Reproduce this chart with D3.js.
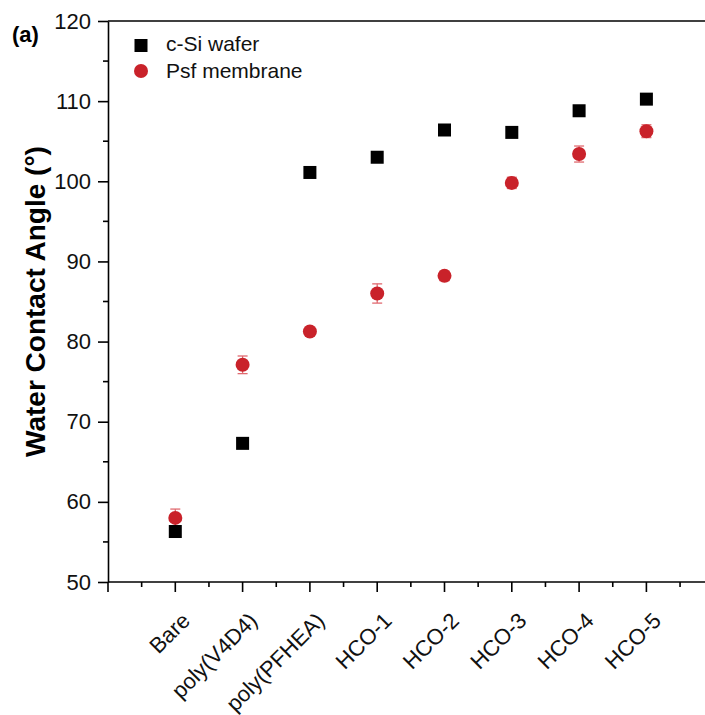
<!DOCTYPE html>
<html lang="en">
<head>
  <meta charset="UTF-8">
  <title>Water Contact Angle</title>
  <script src="https://d3js.org/d3.v7.min.js"></script>
  <style>
    body {
      margin: 0;
      background-color: white;
      font-family: "Liberation Sans", Arial, sans-serif;
    }
    .tick text {
      font-family: "Liberation Sans", Arial, sans-serif;
    }
  </style>
</head>
<body>
  <svg width="705" height="715"></svg>
  <script>
    const categories = ["Bare", "poly(V4D4)", "poly(PFHEA)", "HCO-1", "HCO-2", "HCO-3", "HCO-4", "HCO-5"];
    const siValues = [56.3, 67.3, 101.1, 103.0, 106.4, 106.1, 108.8, 110.25];
    const psfValues = [58.0, 77.1, 81.25, 86.0, 88.2, 99.8, 103.4, 106.25];
    const psfErrors = [1.1, 1.1, 0.5, 1.2, 0.6, 0.7, 1.0, 0.8];
    const yTicks = [50, 60, 70, 80, 90, 100, 110, 120];

    const svg = d3.select("svg");

    const x = d3.scaleLinear().domain([0, 9]).range([108, 108 + 9 * 67.3]);
    const y = d3.scaleLinear().domain([50, 120]).range([582, 21]);

    // top border
    svg.append("line")
      .attr("x1", 108).attr("x2", 705)
      .attr("y1", y(120)).attr("y2", y(120))
      .attr("stroke", "#000").attr("stroke-width", 1.6);

    // y axis
    const yAxis = svg.append("g").attr("transform", `translate(108,0)`);
    yAxis.call(d3.axisLeft(y).tickValues(yTicks).tickSize(10).tickPadding(7).tickSizeOuter(0))
      .call(g => g.selectAll("text").attr("font-size", 22).attr("fill", "#111"));
    yAxis.selectAll("line, path").attr("stroke", "#000").attr("stroke-width", 1.6);
    yAxis.append("g").selectAll("line")
      .data(d3.range(55, 120, 10))
      .join("line")
      .attr("x1", 0).attr("x2", -5)
      .attr("y1", d => y(d)).attr("y2", d => y(d))
      .attr("stroke", "#000").attr("stroke-width", 1.6);

    // x axis
    const xAxis = svg.append("g").attr("transform", `translate(0,${y(50)})`);
    xAxis.append("line")
      .attr("x1", 108).attr("x2", 705)
      .attr("stroke", "#000").attr("stroke-width", 1.6);
    xAxis.selectAll(".major")
      .data(d3.range(0, 9))
      .join("line")
      .attr("x1", d => x(d)).attr("x2", d => x(d))
      .attr("y1", 0).attr("y2", 10)
      .attr("stroke", "#000").attr("stroke-width", 1.6);
    xAxis.selectAll(".minor")
      .data(d3.range(0.5, 9, 1))
      .join("line")
      .attr("x1", d => x(d)).attr("x2", d => x(d))
      .attr("y1", 0).attr("y2", 5)
      .attr("stroke", "#000").attr("stroke-width", 1.6);
    xAxis.selectAll("text")
      .data(categories)
      .join("text")
      .attr("transform", (d, i) => `translate(${x(i + 1) + 16},${40}) rotate(-45)`)
      .attr("text-anchor", "end")
      .attr("font-size", 22)
      .attr("fill", "#111")
      .text(d => d);

    // y label
    svg.append("text")
      .attr("transform", `translate(45,${(y(50) + y(120)) / 2}) rotate(-90)`)
      .attr("text-anchor", "middle")
      .attr("font-size", 28)
      .attr("font-weight", "bold")
      .text("Water Contact Angle (\u00b0)");

    svg.append("text")
      .attr("x", 12).attr("y", 42)
      .attr("font-size", 22)
      .attr("font-weight", "bold")
      .text("(a)");

    // error bars
    const err = svg.append("g").attr("stroke", "#e06a70").attr("stroke-width", 1.3);
    psfValues.forEach((v, i) => {
      const cx = x(i + 1);
      err.append("line").attr("x1", cx).attr("x2", cx)
        .attr("y1", y(v - psfErrors[i])).attr("y2", y(v + psfErrors[i]));
      err.append("line").attr("x1", cx - 5).attr("x2", cx + 5)
        .attr("y1", y(v - psfErrors[i])).attr("y2", y(v - psfErrors[i]));
      err.append("line").attr("x1", cx - 5).attr("x2", cx + 5)
        .attr("y1", y(v + psfErrors[i])).attr("y2", y(v + psfErrors[i]));
    });

    svg.selectAll(".psf")
      .data(psfValues)
      .join("circle")
      .attr("cx", (d, i) => x(i + 1))
      .attr("cy", d => y(d))
      .attr("r", 7)
      .attr("fill", "#c9222a");

    svg.selectAll(".si")
      .data(siValues)
      .join("rect")
      .attr("x", (d, i) => x(i + 1) - 6.5)
      .attr("y", d => y(d) - 6.5)
      .attr("width", 13).attr("height", 13)
      .attr("fill", "#000");

    // legend
    const legend = svg.append("g");
    legend.append("rect").attr("x", 134.5).attr("y", 39).attr("width", 13).attr("height", 13).attr("fill", "#000");
    legend.append("text").attr("x", 166).attr("y", 51).attr("font-size", 21).attr("fill", "#111").text("c-Si wafer");
    legend.append("circle").attr("cx", 141).attr("cy", 71).attr("r", 7).attr("fill", "#c9222a");
    legend.append("text").attr("x", 166).attr("y", 78).attr("font-size", 21).attr("fill", "#111").text("Psf membrane");
  </script>
</body>
</html>
